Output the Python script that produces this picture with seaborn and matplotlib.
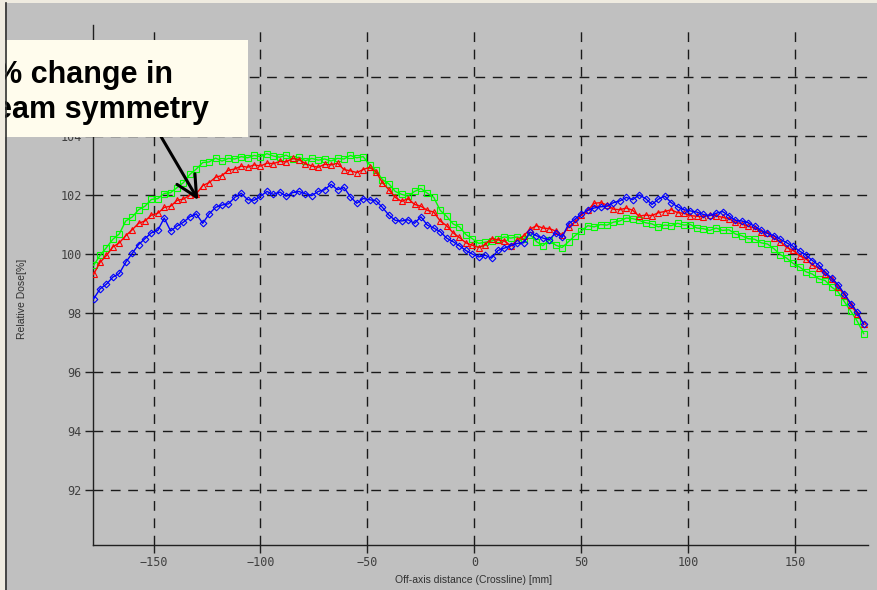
import numpy as np
import pandas as pd
import matplotlib.pyplot as plt
import matplotlib.lines as mlines
import matplotlib.patches as mpatches
import seaborn as sns

# Off-axis positions [mm] (crossline scan)
positions = [
    -178, -175, -172, -169, -166, -163, -160, -157, -154, -151,
    -148, -145, -142, -139, -136, -133, -130, -127, -124, -121,
    -118, -115, -112, -109, -106, -103, -100, -97, -94, -91,
    -88, -85, -82, -79, -76, -73, -70, -67, -64, -61,
    -58, -55, -52, -49, -46, -43, -40, -37, -34, -31,
    -28, -25, -22, -19, -16, -13, -10, -7, -4, -1,
    2, 5, 8, 11, 14, 17, 20, 23, 26, 29,
    32, 35, 38, 41, 44, 47, 50, 53, 56, 59,
    62, 65, 68, 71, 74, 77, 80, 83, 86, 89,
    92, 95, 98, 101, 104, 107, 110, 113, 116, 119,
    122, 125, 128, 131, 134, 137, 140, 143, 146, 149,
    152, 155, 158, 161, 164, 167, 170, 173, 176, 179,
    182,
]

# Relative dose [%] per profile
dose_green = [
    99.62, 99.95, 100.22, 100.50, 100.68, 101.12, 101.25, 101.50, 101.62, 101.85,
    101.88, 102.05, 102.08, 102.25, 102.42, 102.70, 102.88, 103.10, 103.12, 103.25,
    103.15, 103.24, 103.22, 103.30, 103.26, 103.34, 103.30, 103.40, 103.32, 103.28,
    103.35, 103.22, 103.28, 103.16, 103.24, 103.18, 103.22, 103.15, 103.24, 103.22,
    103.34, 103.26, 103.30, 103.02, 102.84, 102.52, 102.38, 102.12, 102.02, 101.96,
    102.12, 102.22, 102.06, 101.92, 101.48, 101.28, 101.02, 100.92, 100.66, 100.52,
    100.36, 100.40, 100.44, 100.50, 100.58, 100.54, 100.58, 100.52, 100.66, 100.42,
    100.28, 100.48, 100.30, 100.22, 100.42, 100.62, 100.78, 100.96, 100.92, 101.00,
    100.98, 101.08, 101.12, 101.22, 101.20, 101.14, 101.06, 101.02, 100.92, 100.98,
    100.96, 101.04, 100.98, 101.00, 100.88, 100.86, 100.80, 100.88, 100.80, 100.82,
    100.68, 100.62, 100.52, 100.50, 100.38, 100.34, 100.18, 99.98, 99.86, 99.68,
    99.56, 99.40, 99.32, 99.16, 99.10, 98.88, 98.72, 98.38, 98.06, 97.72,
    97.30,
]

dose_red = [
    99.32, 99.72, 99.95, 100.24, 100.38, 100.62, 100.82, 101.04, 101.12, 101.32,
    101.38, 101.58, 101.62, 101.82, 101.86, 102.00, 102.04, 102.32, 102.42, 102.60,
    102.66, 102.84, 102.88, 102.98, 102.94, 103.02, 102.98, 103.08, 103.06, 103.14,
    103.12, 103.24, 103.20, 103.06, 102.98, 102.94, 103.04, 103.02, 103.08, 102.86,
    102.82, 102.76, 102.86, 102.94, 102.78, 102.42, 102.18, 101.92, 101.78, 101.88,
    101.68, 101.62, 101.48, 101.42, 101.12, 100.96, 100.72, 100.56, 100.38, 100.30,
    100.22, 100.32, 100.52, 100.48, 100.44, 100.28, 100.46, 100.62, 100.84, 100.96,
    100.88, 100.86, 100.78, 100.64, 100.92, 101.08, 101.32, 101.48, 101.72, 101.74,
    101.66, 101.52, 101.50, 101.56, 101.48, 101.28, 101.32, 101.30, 101.40, 101.44,
    101.50, 101.40, 101.38, 101.30, 101.28, 101.26, 101.32, 101.30, 101.24, 101.20,
    101.08, 101.02, 100.94, 100.88, 100.76, 100.72, 100.54, 100.42, 100.22, 100.12,
    99.94, 99.84, 99.62, 99.52, 99.32, 99.16, 98.88, 98.62, 98.28, 97.96,
    97.62,
]

dose_blue = [
    98.48, 98.82, 98.98, 99.22, 99.34, 99.72, 100.02, 100.32, 100.52, 100.72,
    100.80, 101.22, 100.78, 100.95, 101.08, 101.26, 101.36, 101.04, 101.36, 101.58,
    101.66, 101.70, 101.92, 102.06, 101.84, 101.82, 101.96, 102.12, 102.02, 102.10,
    101.96, 102.08, 102.12, 102.04, 101.98, 102.12, 102.18, 102.36, 102.18, 102.26,
    101.94, 101.72, 101.88, 101.84, 101.80, 101.58, 101.32, 101.14, 101.12, 101.16,
    101.04, 101.26, 100.98, 100.88, 100.76, 100.54, 100.42, 100.28, 100.12, 100.00,
    99.90, 99.96, 99.86, 100.12, 100.20, 100.28, 100.36, 100.38, 100.74, 100.62,
    100.54, 100.48, 100.72, 100.56, 101.02, 101.18, 101.36, 101.48, 101.56, 101.60,
    101.62, 101.74, 101.80, 101.92, 101.84, 102.00, 101.88, 101.68, 101.86, 101.96,
    101.74, 101.60, 101.50, 101.46, 101.42, 101.34, 101.30, 101.38, 101.44, 101.30,
    101.14, 101.12, 101.06, 100.94, 100.80, 100.70, 100.62, 100.50, 100.38, 100.26,
    100.10, 99.96, 99.78, 99.62, 99.38, 99.18, 98.96, 98.64, 98.32, 98.02,
    97.62,
]

x_ticks = [-150, -100, -50, 0, 50, 100, 150]
y_ticks = [92, 94, 96, 98, 100, 102, 104, 106]
# the 106 label sits under the callout box in the screenshot
y_tick_labels = ["92", "94", "96", "98", "100", "102", "104", ""]

BG = "#c0c0c0"


def main():
    fig = plt.figure(figsize=(8.77, 5.9), dpi=100, facecolor=BG)
    ax = fig.add_axes([93 / 877, 45 / 590, 775 / 877, 520 / 590])
    ax.set_facecolor(BG)

    profiles = [
        (dose_green, "#00ff00", "s", 4.6),
        (dose_red, "#ff0000", "^", 4.6),
        (dose_blue, "#0000ff", "D", 3.4),
    ]
    for dose, color, marker, msize in profiles:
        df = pd.DataFrame({"x": positions, "dose": dose})
        sns.lineplot(data=df, x="x", y="dose", ax=ax, color=color, lw=1.0,
                     marker=marker, markersize=msize, markerfacecolor="none",
                     markeredgecolor=color, markeredgewidth=0.8,
                     errorbar=None, zorder=3)

    ax.set_xlim(-178.3, 184)
    ax.set_ylim(90.14, 107.76)
    ax.set_xticks(x_ticks)
    ax.set_yticks(y_ticks)
    ax.set_yticklabels(y_tick_labels)
    ax.set_xlabel("")
    ax.set_ylabel("")

    ax.set_axisbelow(True)
    ax.grid(True, color="#1a1a1a", linestyle=(0, (7, 5.5)), linewidth=1.0)
    for side in ["top", "right"]:
        ax.spines[side].set_visible(False)
    for side in ["left", "bottom"]:
        ax.spines[side].set_color("#202020")
        ax.spines[side].set_linewidth(1.0)
    ax.tick_params(direction="out", length=6, width=1, color="#202020",
                   labelcolor="#404040", labelsize=8.5, pad=2)
    for lab in ax.get_xticklabels() + ax.get_yticklabels():
        lab.set_family("DejaVu Sans Mono")

    fig.text(474 / 877, 1 - 580 / 590, "Off-axis distance (Crossline) [mm]",
             ha="center", va="center", fontsize=7.5, color="#303030",
             family="Liberation Sans")
    fig.text(22 / 877, 1 - 299 / 590, "Relative Dose[%]", rotation=90,
             ha="center", va="center", fontsize=7.5, color="#303030",
             family="Liberation Sans")

    # Arrow to the profiles
    ax.annotate("", xy=(-129.1, 101.83), xytext=(-148.3, 104.2),
                arrowprops=dict(arrowstyle="->,head_length=0.6,head_width=0.3",
                                color="black", lw=2.2, mutation_scale=25,
                                shrinkA=0, shrinkB=0),
                zorder=6)

    # Callout box (cut off at the left edge, as in the screenshot)
    fig.add_artist(mpatches.Rectangle((0, 1 - 137 / 590), 248 / 877, 97 / 590,
                                      transform=fig.transFigure, facecolor="#fffced",
                                      edgecolor="none", zorder=5))
    fig.text(-5 / 877, 1 - 118 / 590, "% change in\neam symmetry", fontsize=22,
             fontweight="bold", family="Liberation Sans", va="baseline",
             ha="left", linespacing=1.2, color="black", zorder=6)

    # Window frame strips
    fig.add_artist(mpatches.Rectangle((0, 0), 5 / 877, 1, transform=fig.transFigure,
                                      facecolor="#efebe0", edgecolor="none", zorder=7))
    fig.add_artist(mpatches.Rectangle((0, 1 - 3 / 590), 1, 3 / 590,
                                      transform=fig.transFigure,
                                      facecolor="#efebe0", edgecolor="none", zorder=7))
    fig.add_artist(mlines.Line2D([6 / 877, 6 / 877], [0, 1 - 3 / 590],
                                 transform=fig.transFigure, color="#303030",
                                 lw=1.2, zorder=8))

    fig.savefig("out.png", dpi=100, facecolor=BG)


if __name__ == "__main__":
    main()
